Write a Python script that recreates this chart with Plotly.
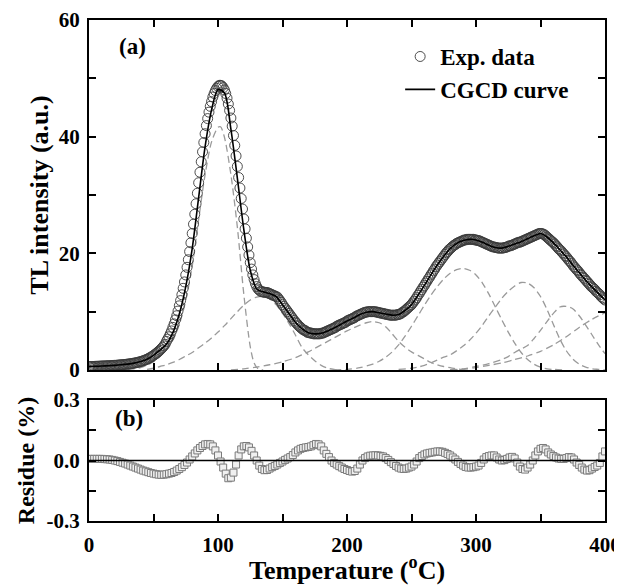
import plotly.graph_objects as go

# ---------------- data ----------------
# Experimental TL glow curve, 1 degC steps from 0 to 400 degC
exp_temp = list(range(0, 401))
exp_tl = [
    0.55, 0.6, 0.6, 0.6, 0.62, 0.63, 0.64, 0.65, 0.66, 0.67,
    0.68, 0.69, 0.7, 0.71, 0.72, 0.73, 0.74, 0.76, 0.77, 0.78,
    0.8, 0.81, 0.83, 0.85, 0.87, 0.89, 0.91, 0.93, 0.96, 0.98,
    1.01, 1.04, 1.07, 1.1, 1.14, 1.18, 1.22, 1.27, 1.32, 1.38,
    1.44, 1.51, 1.58, 1.66, 1.75, 1.85, 1.96, 2.08, 2.21, 2.35,
    2.5, 2.66, 2.83, 3.01, 3.2, 3.41, 3.63, 3.87, 4.13, 4.41,
    4.9, 5.3, 5.7, 6.2, 6.7, 7.3, 7.9, 8.6, 9.3, 10.1,
    11.0, 11.9, 12.9, 14.0, 15.1, 16.3, 17.6, 18.9, 20.3, 21.8,
    23.4, 25.0, 26.7, 28.5, 30.3, 32.1, 33.9, 35.7, 37.4, 39.0,
    40.5, 41.9, 43.1, 44.2, 45.2, 46.0, 46.8, 47.4, 47.9, 48.3,
    48.6, 48.8, 48.8, 48.7, 48.4, 48.0, 47.4, 46.6, 45.6, 44.5,
    43.2, 41.8, 40.2, 38.5, 36.7, 34.9, 33.0, 31.2, 29.4, 27.6,
    25.9, 24.2, 22.6, 21.1, 19.7, 18.4, 17.3, 16.3, 15.5, 14.8,
    14.3, 13.9, 13.7, 13.5, 13.4, 13.4, 13.3, 13.3, 13.3, 13.2,
    13.1, 13.0, 12.9, 12.8, 12.7, 12.6, 12.5, 12.2, 11.9, 11.6,
    11.2, 10.9, 10.6, 10.3, 10.0, 9.7, 9.4, 9.1, 8.8, 8.5,
    8.2, 8.0, 7.7, 7.5, 7.3, 7.1, 6.9, 6.8, 6.7, 6.5,
    6.4, 6.4, 6.3, 6.3, 6.2, 6.2, 6.2, 6.2, 6.2, 6.2,
    6.3, 6.3, 6.4, 6.5, 6.6, 6.7, 6.8, 6.9, 7.0, 7.1,
    7.2, 7.3, 7.5, 7.6, 7.7, 7.8, 7.9, 8.0, 8.1, 8.2,
    8.4, 8.5, 8.6, 8.7, 8.8, 8.9, 9.0, 9.2, 9.3, 9.4,
    9.5, 9.6, 9.7, 9.8, 9.9, 9.9, 10.0, 10.0, 10.0, 10.0,
    10.0, 10.0, 10.0, 9.9, 9.9, 9.8, 9.8, 9.7, 9.7, 9.6,
    9.6, 9.5, 9.5, 9.4, 9.4, 9.4, 9.4, 9.4, 9.4, 9.5,
    9.5, 9.6, 9.7, 9.9, 10.0, 10.2, 10.4, 10.6, 10.8, 11.0,
    11.2, 11.5, 11.8, 12.1, 12.4, 12.8, 13.1, 13.5, 13.8, 14.2,
    14.5, 14.9, 15.2, 15.6, 15.9, 16.3, 16.6, 17.0, 17.3, 17.7,
    18.0, 18.3, 18.6, 18.9, 19.2, 19.5, 19.8, 20.1, 20.3, 20.6,
    20.8, 21.0, 21.2, 21.4, 21.5, 21.7, 21.8, 21.9, 22.0, 22.1,
    22.2, 22.3, 22.3, 22.4, 22.4, 22.4, 22.4, 22.4, 22.4, 22.3,
    22.3, 22.2, 22.2, 22.1, 22.0, 21.9, 21.8, 21.7, 21.6, 21.5,
    21.4, 21.3, 21.2, 21.1, 21.1, 21.0, 21.0, 20.9, 20.9, 20.9,
    20.9, 20.9, 21.0, 21.0, 21.1, 21.2, 21.3, 21.3, 21.4, 21.5,
    21.6, 21.7, 21.8, 21.9, 21.9, 22.0, 22.1, 22.2, 22.3, 22.4,
    22.5, 22.6, 22.7, 22.8, 22.9, 23.0, 23.1, 23.2, 23.3, 23.4,
    23.4, 23.4, 23.3, 23.2, 23.0, 22.8, 22.6, 22.4, 22.2, 22.0,
    21.8, 21.6, 21.3, 21.1, 20.8, 20.6, 20.4, 20.1, 19.9, 19.6,
    19.4, 19.1, 18.8, 18.6, 18.3, 18.0, 17.7, 17.5, 17.2, 17.0,
    16.7, 16.4, 16.2, 15.9, 15.7, 15.4, 15.2, 14.9, 14.7, 14.4,
    14.2, 14.0, 13.8, 13.5, 13.3, 13.1, 12.9, 12.6, 12.4, 12.2,
    12.0,
]

# CGCD fitted curve, 5 degC steps
fit_temp = list(range(0, 401, 5))
fit_tl = [
    0.6, 0.63, 0.68, 0.73, 0.8, 0.89, 1.01, 1.18, 1.44, 1.85,
    2.5, 3.4, 4.4, 6.4, 9.6, 14.3, 20.8, 29.6, 38.3, 44.6,
    48.1, 47.5, 41.3, 32.9, 24.1, 17.1, 13.9, 13.4, 13.1, 12.6,
    11.2, 9.7, 8.2, 7.1, 6.4, 6.2, 6.3, 6.7, 7.2, 7.8,
    8.4, 8.9, 9.5, 9.9, 10.0, 9.8, 9.6, 9.4, 9.5, 10.2,
    11.2, 12.8, 14.5, 16.3, 18.0, 19.5, 20.8, 21.7, 22.2, 22.4,
    22.3, 21.9, 21.4, 21.0, 20.9, 21.2, 21.6, 22.0, 22.5, 23.0,
    23.4, 22.8, 21.8, 20.6, 19.4, 18.0, 16.7, 15.4, 14.2, 13.1,
    12.0,
]

# Deconvoluted glow peaks (dashed)
peak1_temp = [30, 35, 40, 45, 50, 55, 60, 65, 70, 75, 80, 85, 90, 95, 100, 102, 105, 110, 115, 120, 125, 128, 131, 135]
peak1_tl = [0.1, 0.2, 0.4, 0.8, 1.4, 2.3, 3.5, 5.1, 7.8, 11.9, 17.8, 25.8, 33.5, 39.1, 41.6, 41.7, 39.9, 33.5, 24.5, 13.0, 4.0, 1.2, 0.2, 0.0]

peak2_temp = [45, 50, 55, 60, 65, 70, 75, 80, 85, 90, 95, 100, 105, 110, 115, 120, 125, 130, 135, 140,
              145, 150, 155, 160, 165, 170, 175, 180, 185, 190, 195]
peak2_tl = [0.1, 0.3, 0.6, 0.9, 1.3, 1.8, 2.4, 3.0, 3.8, 4.6, 5.5, 6.5, 7.6, 8.8, 10.0, 11.1, 12.0, 12.5, 12.6, 12.2,
            11.2, 9.7, 8.0, 6.0, 3.9, 2.6, 1.6, 0.8, 0.3, 0.1, 0.0]

peak3_temp = [110, 120, 130, 140, 150, 160, 165, 170, 175, 180, 185, 190, 195, 200, 205, 210, 215, 220, 225, 230,
              235, 240, 245, 250, 255, 260, 265, 270, 275, 280, 285, 290]
peak3_tl = [0.0, 0.2, 0.5, 0.9, 1.4, 2.1, 2.6, 3.1, 3.7, 4.3, 4.9, 5.5, 6.1, 6.7, 7.2, 7.7, 8.1, 8.3, 8.1, 7.4,
            6.2, 4.9, 3.9, 3.1, 2.5, 1.9, 1.3, 0.9, 0.6, 0.4, 0.2, 0.1]

peak4_temp = [190, 200, 210, 220, 225, 230, 235, 240, 245, 250, 255, 260, 265, 270, 275, 280, 285, 290, 295, 300,
              305, 310, 315, 320, 325, 330, 335, 340, 345, 350, 355, 360, 370]
peak4_tl = [0.0, 0.1, 0.4, 1.0, 1.5, 2.2, 3.1, 4.3, 5.8, 7.5, 9.3, 11.1, 12.8, 14.3, 15.6, 16.6, 17.2, 17.4, 17.1, 16.3,
            14.9, 13.0, 10.8, 8.6, 6.5, 4.6, 3.0, 1.8, 1.0, 0.5, 0.2, 0.1, 0.0]

peak5_temp = [240, 250, 255, 260, 265, 270, 275, 280, 285, 290, 295, 300, 305, 310, 315, 320, 325, 330, 335, 340,
              345, 350, 355, 360, 365, 370, 375, 380, 385, 390, 395, 400]
peak5_tl = [0.1, 0.3, 0.5, 0.8, 1.2, 1.7, 2.2, 2.6, 3.3, 4.1, 5.1, 6.3, 7.7, 9.3, 10.8, 12.3, 13.5, 14.4, 15.0, 14.9,
            14.1, 12.6, 10.4, 7.8, 5.3, 3.3, 1.9, 1.0, 0.5, 0.2, 0.1, 0.0]

peak6_temp = [280, 290, 300, 310, 320, 325, 330, 335, 340, 345, 350, 355, 360, 365, 370, 375, 380, 385, 390, 395, 400]
peak6_tl = [0.05, 0.2, 0.6, 1.1, 1.8, 2.3, 3.0, 3.6, 4.2, 5.4, 6.8, 8.3, 9.7, 10.8, 10.9, 10.5, 9.3, 7.7, 6.0, 4.3, 2.8]

peak7_temp = [280, 290, 300, 310, 320, 330, 340, 350, 360, 370, 380, 390, 400]
peak7_tl = [0.0, 0.1, 0.4, 0.8, 1.2, 1.8, 2.4, 3.2, 4.3, 5.7, 7.3, 8.7, 9.8]

peaks_temp = [peak1_temp, peak2_temp, peak3_temp, peak4_temp, peak5_temp, peak6_temp, peak7_temp]
peaks_tl = [peak1_tl, peak2_tl, peak3_tl, peak4_tl, peak5_tl, peak6_tl, peak7_tl]

# Residue (%), 2 degC steps
res_temp = list(range(0, 401, 2))
res_val = [
    0.008, 0.008, 0.008, 0.008, 0.008, 0.008, 0.007, 0.006, 0.005, 0.003,
    0.0, -0.003, -0.007, -0.011, -0.015, -0.02, -0.025, -0.03, -0.035, -0.04,
    -0.045, -0.05, -0.054, -0.058, -0.062, -0.065, -0.068, -0.07, -0.071, -0.07,
    -0.068, -0.065, -0.062, -0.057, -0.05, -0.042, -0.033, -0.022, -0.01, 0.005,
    0.02, 0.035, 0.05, 0.062, 0.072, 0.08, 0.082, 0.08, 0.07, 0.05,
    0.025, -0.005, -0.035, -0.065, -0.088, -0.085, -0.06, -0.02, 0.025, 0.055,
    0.07, 0.072, 0.065, 0.048, 0.025, 0.0, -0.025, -0.042, -0.048, -0.047,
    -0.04, -0.033, -0.027, -0.02, -0.012, -0.005, 0.003, 0.01, 0.017, 0.027,
    0.04, 0.05, 0.058, 0.062, 0.065, 0.067, 0.07, 0.076, 0.082, 0.08,
    0.07, 0.05, 0.033, 0.017, 0.0, -0.012, -0.02, -0.028, -0.035, -0.042,
    -0.047, -0.052, -0.055, -0.052, -0.04, -0.02, 0.0, 0.012, 0.02, 0.024,
    0.025, 0.026, 0.025, 0.023, 0.02, 0.012, 0.003, -0.008, -0.017, -0.027,
    -0.035, -0.04, -0.042, -0.04, -0.035, -0.03, -0.02, -0.005, 0.012, 0.022,
    0.03, 0.035, 0.038, 0.04, 0.043, 0.045, 0.045, 0.043, 0.038, 0.032,
    0.025, 0.015, 0.005, -0.007, -0.017, -0.025, -0.032, -0.035, -0.035, -0.033,
    -0.03, -0.025, -0.012, 0.005, 0.017, 0.022, 0.025, 0.025, 0.015, 0.005,
    0.0, 0.002, 0.008, 0.015, 0.018, 0.01, -0.01, -0.03, -0.042, -0.045,
    -0.035, -0.02, 0.0, 0.025, 0.045, 0.058, 0.062, 0.055, 0.04, 0.03,
    0.022, 0.015, 0.01, 0.008, 0.008, 0.012, 0.017, 0.015, 0.005, -0.01,
    -0.022, -0.035, -0.045, -0.05, -0.048, -0.04, -0.032, -0.025, -0.012, 0.02,
    0.045,
]

x_ticks = [0, 100, 200, 300, 400]
tl_ticks = [0, 20, 40, 60]
res_ticks = [-0.3, 0.0, 0.3]
res_tick_text = ["-0.3", "0.0", "0.3"]

# ---------------- figure ----------------
FONT = "Liberation Serif"
fig = go.Figure()

for pt, pv in zip(peaks_temp, peaks_tl):
    fig.add_trace(go.Scatter(
        x=pt, y=pv, mode="lines", showlegend=False, hoverinfo="skip",
        line=dict(color="#9a9a9a", width=1.3, dash="7px,4px", shape="spline", smoothing=0.8),
        xaxis="x", yaxis="y"))

fig.add_trace(go.Scatter(
    x=exp_temp, y=exp_tl, mode="markers", name="Exp. data",
    marker=dict(symbol="circle-open", size=10, color="#3a3a3a", line=dict(width=0.9, color="#3a3a3a")),
    xaxis="x", yaxis="y"))

fig.add_trace(go.Scatter(
    x=fit_temp, y=fit_tl, mode="lines", name="CGCD curve",
    line=dict(color="black", width=1.6, shape="spline", smoothing=0.8),
    xaxis="x", yaxis="y"))

fig.add_trace(go.Scatter(
    x=res_temp, y=res_val, mode="markers", showlegend=False,
    marker=dict(symbol="square", size=7, color="#f0f0f0", line=dict(width=1, color="#7a7a7a")),
    xaxis="x2", yaxis="y2"))

fig.add_shape(type="line", xref="x2 domain", yref="y2", x0=0, x1=1, y0=0, y1=0,
              line=dict(color="black", width=1.6))

TICKFONT = dict(family=FONT, size=21, color="black", weight="bold")
axis_common = dict(
    showline=True, linecolor="black", linewidth=2, mirror="ticks",
    ticks="inside", ticklen=7, tickwidth=2, tickcolor="black",
    showgrid=False, zeroline=False, automargin=False,
    tickfont=TICKFONT,
)
MINOR = dict(ticks="inside", ticklen=7, tickwidth=2, tickcolor="black", showgrid=False)

# The page body adds an 8 px offset, so the figure is sized 614 x 577
fig.update_layout(
    template="none",
    width=614, height=577,
    margin=dict(l=81, r=17, t=12, b=64),
    paper_bgcolor="white", plot_bgcolor="white",
    font=dict(family=FONT, color="black"),
    showlegend=True,
    xaxis=dict(domain=[0, 1], range=[0, 400], anchor="y", tickvals=x_ticks,
               showticklabels=False, minor=dict(dtick=50, **MINOR),
               **axis_common),
    yaxis=dict(domain=[0.3014, 1], range=[0, 60], anchor="x", tickvals=tl_ticks,
               minor=dict(dtick=10, **MINOR), ticklabelstandoff=3,
               title=dict(text="TL intensity (a.u.)", standoff=3,
                          font=dict(family=FONT, size=26, color="black", weight="bold")),
               **axis_common),
    xaxis2=dict(domain=[0, 1], range=[0, 400], anchor="y2", tickvals=x_ticks,
                minor=dict(dtick=50, **MINOR), ticklabelstandoff=4,
                title=dict(text="Temperature (<sup>o</sup>C)", standoff=4,
                           font=dict(family=FONT, size=26, color="black", weight="bold")),
                **axis_common),
    yaxis2=dict(domain=[0, 0.2415], range=[-0.3, 0.3], anchor="x2", tickvals=res_ticks,
                ticktext=res_tick_text, minor=dict(dtick=0.15, **MINOR), ticklabelstandoff=3,
                title=dict(text="Residue (%)", standoff=5,
                           font=dict(family=FONT, size=24, color="black", weight="bold")),
                **axis_common),
    legend=dict(x=0.603, y=0.97, xanchor="left", yanchor="top",
                bgcolor="rgba(0,0,0,0)", borderwidth=0,
                font=dict(family=FONT, size=23, color="black", weight="bold"),
                tracegroupgap=0, itemsizing="trace"),
    annotations=[
        dict(text="(a)", xref="x domain", yref="y domain", x=0.054, y=0.923,
             xanchor="left", yanchor="middle", showarrow=False,
             font=dict(family=FONT, size=23, color="black", weight="bold")),
        dict(text="(b)", xref="x2 domain", yref="y2 domain", x=0.0465, y=0.851,
             xanchor="left", yanchor="middle", showarrow=False,
             font=dict(family=FONT, size=23, color="black", weight="bold")),
    ],
)

fig.write_html("out.html")
